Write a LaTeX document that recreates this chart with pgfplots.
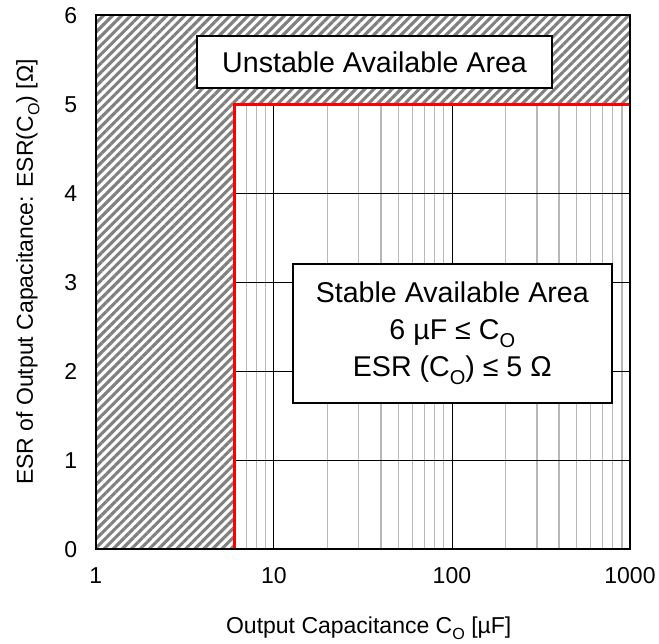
\documentclass[border=0pt]{standalone}
\usepackage{fontspec}
\setmainfont{Liberation Sans}
\usepackage{pgfplots}
\pgfplotsset{compat=1.18}
\usetikzlibrary{patterns.meta}
\newcommand\sub[1]{\raisebox{-0.28em}{\scalebox{0.7}{#1}}}
\begin{document}
\begin{tikzpicture}
\useasboundingbox (-95.7bp,-94.7bp) rectangle (563.3bp,549.3bp);
\begin{axis}[
 at={(0,0)}, anchor=south west,
 scale only axis, width=534.3bp, height=534bp,
 xmode=log, xmin=1, xmax=1000, ymin=0, ymax=6,
 xtick={1,10,100,1000}, xticklabels={1,10,100,1000},
 ytick={0,1,2,3,4,5,6},
 minor xtick={2,3,4,5,6,7,8,9,20,30,40,50,60,70,80,90,200,300,400,500,600,700,800,900},
 grid=both,
 major grid style={black, line width=0.8bp},
 minor grid style={black!28, line width=1.3bp},
 major tick length=0pt, minor tick length=0pt,
 axis line style={line width=1.8bp},
 tick label style={font=\fontsize{23bp}{27bp}\selectfont},
 /pgf/number format/assume math mode=true,
 xticklabel style={yshift=-15bp},
 yticklabel style={xshift=-15bp},
 label style={font=\fontsize{23bp}{27bp}\selectfont},
 xlabel={Output Capacitance C\sub{O} [µF]},
 ylabel={ESR of Output Capacitance: ESR(C\sub{O}) [Ω]},
 xlabel style={at={(axis description cs:0.511,-0.1573)}, anchor=base},
 ylabel style={at={(axis description cs:-0.1174,0.519)}, anchor=base, rotate=0},
 clip=false,
]
\addplot[fill=white, draw=none] coordinates {(1,0) (6,0) (6,5) (1000,5) (1000,6) (1,6)} -- cycle;
\addplot[draw=none, pattern={Lines[angle=45, distance=6.4bp, line width=3.1bp]}, pattern color=black!50] coordinates {(1,0) (6,0) (6,5) (1000,5) (1000,6) (1,6)} -- cycle;
\addplot[red, line width=2.8bp] coordinates {(6,0) (6,5) (1000,5)};
\draw[line width=1.8bp] (rel axis cs:0,0) rectangle (rel axis cs:1,1);
\node[draw, line width=1.5bp, fill=white, minimum width=355bp, minimum height=52bp, inner sep=0pt,
  font=\fontsize{28.6bp}{34bp}\selectfont] at (axis cs:36.8,5.475) {Unstable Available Area};
\node[draw, line width=1.5bp, fill=white, minimum width=319bp, minimum height=139bp, inner sep=0pt, align=center,
  font=\fontsize{28.6bp}{37bp}\selectfont] at (axis cs:100.5,2.427)
  {Stable Available Area\\6 µF ≤ C\sub{O}\\ESR (C\sub{O}) ≤ 5 Ω};
\end{axis}
\end{tikzpicture}
\end{document}
